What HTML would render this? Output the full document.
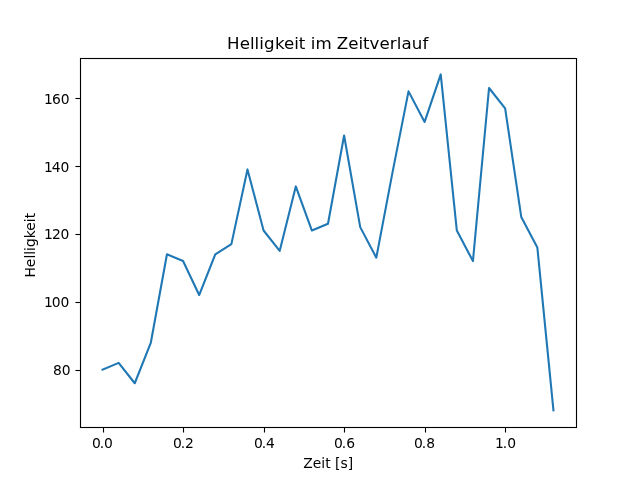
<!DOCTYPE html>
<html lang="de">
<head>
<meta charset="utf-8">
<title>Helligkeit im Zeitverlauf</title>
<style>
html,body{margin:0;padding:0;background:#fff;}
body{width:640px;height:480px;overflow:hidden;}
svg{display:block;}
text{font-family:"DejaVu Sans","Liberation Sans",sans-serif;fill:#000;}
.t{font-size:13.89px;}
.h{font-size:16.67px;}
</style>
</head>
<body>
<svg width="640" height="480" viewBox="0 0 640 480">
<rect x="0" y="0" width="640" height="480" fill="#fff"/>
<polyline points="102.55,369.67 118.65,362.88 134.75,383.25 150.86,342.52 166.96,254.28 183.06,261.07 199.17,295.01 215.27,254.28 231.38,244.10 247.48,169.43 263.58,230.52 279.69,250.88 295.79,186.40 311.90,230.52 328.00,223.73 344.10,135.49 360.21,227.13 376.31,257.67 392.42,172.82 408.52,91.37 424.62,121.92 440.73,74.40 456.83,230.52 472.94,261.07 489.04,87.98 505.14,108.34 521.25,216.95 537.35,247.49 553.45,410.40" fill="none" stroke="#1f77b4" stroke-width="2.083" stroke-linejoin="round" stroke-linecap="square"/>
<path d="M103.5 428V432.5 M183.5 428V432.5 M264.5 428V432.5 M344.5 428V432.5 M425.5 428V432.5 M505.5 428V432.5 M80 370.5H75.5 M80 302.5H75.5 M80 234.5H75.5 M80 166.5H75.5 M80 98.5H75.5" fill="none" stroke="#f1f1f1" stroke-width="3"/>
<path d="M79.5 57.5H577.5V428.5H79.5Z M81.5 59.5H575.5V426.5H81.5Z" fill="none" stroke="#f1f1f1" stroke-width="1"/>
<rect x="80.5" y="58.5" width="496" height="369" fill="none" stroke="#000" stroke-width="1"/>
<path d="M103.5 428V432.5 M183.5 428V432.5 M264.5 428V432.5 M344.5 428V432.5 M425.5 428V432.5 M505.5 428V432.5 M80 370.5H75.5 M80 302.5H75.5 M80 234.5H75.5 M80 166.5H75.5 M80 98.5H75.5" fill="none" stroke="#000" stroke-width="1"/>
<text class="t" x="91.89 99.67 103.92" y="448">0.0</text>
<text class="t" x="172.90 180.68 184.93" y="448">0.2</text>
<text class="t" x="253.92 261.70 265.95" y="448">0.4</text>
<text class="t" x="333.94 341.72 346.17" y="448">0.6</text>
<text class="t" x="413.96 421.64 426.19" y="448">0.8</text>
<text class="t" x="494.88 502.66 507.21" y="448">1.0</text>
<text class="t" x="52.96 61.64" y="375">80</text>
<text class="t" x="43.89 51.66 60.44" y="307">100</text>
<text class="t" x="43.89 51.96 60.44" y="239">120</text>
<text class="t" x="43.89 51.66 60.44" y="172">140</text>
<text class="t" x="43.89 51.96 60.64" y="104">160</text>
<text class="t l" x="328.20" y="468" text-anchor="middle">Zeit [s]</text>
<text class="t l" x="35.32" y="245.20" text-anchor="middle" transform="rotate(-90 35.32 245.20)">Helligkeit</text>
<text class="h" x="226.92" y="49.27" dx="0 0.2 0 0 0 0.3 0.2 0 0 0 0 0.1 0 0 -0.1 -0.1 0 0 0 0 0 0.2 0.2 0 0">Helligkeit im Zeitverlauf</text>
</svg>
</body>
</html>
